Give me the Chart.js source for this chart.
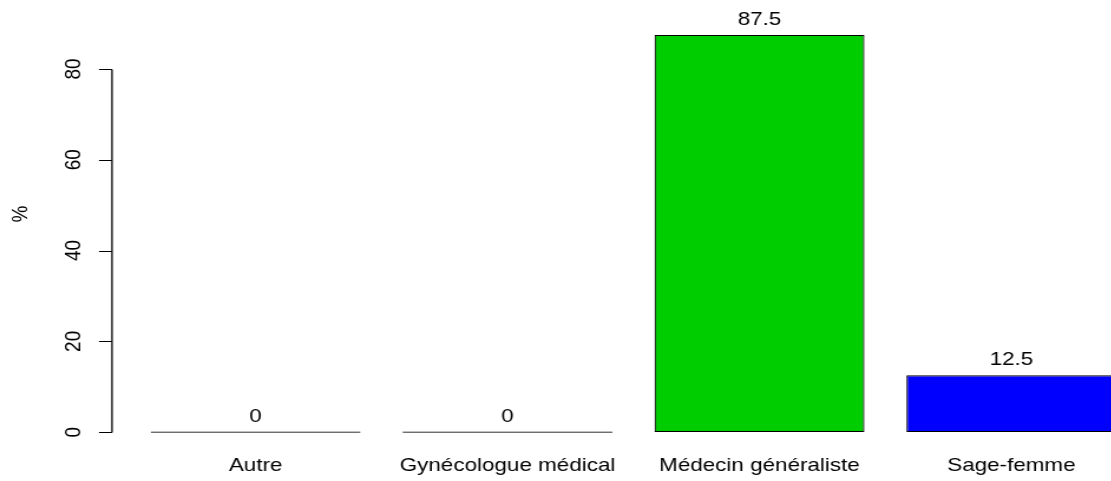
<!DOCTYPE html>
<html>
<head>
<meta charset="utf-8">
<script src="https://cdn.jsdelivr.net/npm/chart.js@4.4.1/dist/chart.umd.min.js"></script>
<style>
  html, body { margin: 0; padding: 0; background: #fff; overflow: hidden; width: 1111px; height: 481px; }
  #wrap { position: absolute; left: 0; top: 0; transform-origin: 0 0; }
  canvas { display: block; }
</style>
</head>
<body>
<div id="wrap"><canvas id="c" width="985" height="481"></canvas></div>
<script>
// ---- data ----
const categories = ["Autre", "Gynécologue médical", "Médecin généraliste", "Sage-femme"];
const values = [0, 0, 87.5, 12.5];
const valueLabels = ["0", "0", "87.5", "12.5"];
const barColors = ["#BEBEBE", "#BEBEBE", "#00CD00", "#0000FF"];
const yTicks = [0, 20, 40, 60, 80];
const yTitle = "%";

// ---- layout (R barplot style: width 1, space 0.2) ----
const S = 1.18;                       // horizontal stretch of the reference image
document.getElementById('wrap').style.transform = 'scaleX(' + S + ')';
const space = 0.2;
const positions = categories.map((_, i) => space + i * (1 + space) + 0.5);
const xSpan = positions.length * (1 + space);
const xMin = space - 0.04 * (xSpan - space);
const xMax = xSpan + 0.04 * (xSpan - space);
const yMax = Math.max(...values);
const yMin = -0.04 * yMax;
const yTop = yMax + 0.04 * yMax;

const FONT = '"Liberation Sans", Arial, sans-serif';
const FS = 19;
const TXT = '#000';

const rAxisPlugin = {
  id: 'rAxis',
  afterDraw(chart) {
    const ctx = chart.ctx;
    const y = chart.scales.y;
    const axX = chart.chartArea.left;
    ctx.save();
    ctx.strokeStyle = '#000';
    ctx.lineWidth = 1.3;
    ctx.beginPath();
    const p0 = Math.round(y.getPixelForValue(yTicks[0])) + 0.5;
    const p1 = Math.round(y.getPixelForValue(yTicks[yTicks.length - 1])) + 0.5;
    ctx.moveTo(axX, p0);
    ctx.lineTo(axX, p1);
    ctx.stroke();
    ctx.lineWidth = 1;
    ctx.beginPath();
    yTicks.forEach(v => {
      const py = Math.round(y.getPixelForValue(v)) + 0.5;
      ctx.moveTo(axX, py);
      ctx.lineTo(axX - 13 / S, py);
    });
    ctx.stroke();
    ctx.fillStyle = TXT;
    ctx.font = FS + 'px ' + FONT;
    ctx.textAlign = 'center';
    ctx.textBaseline = 'alphabetic';
    yTicks.forEach(v => {
      const py = y.getPixelForValue(v);
      ctx.save();
      ctx.translate(80 / S, py);
      ctx.rotate(-Math.PI / 2);
      ctx.fillText(String(v), 0, 0);
      ctx.restore();
    });
    // axis title
    ctx.save();
    ctx.translate(27 / S, 214);
    ctx.rotate(-Math.PI / 2);
    ctx.fillText(yTitle, 0, 0);
    ctx.restore();
    // value labels above bars
    const meta = chart.getDatasetMeta(0);
    meta.data.forEach((bar, i) => {
      const top = y.getPixelForValue(values[i]);
      ctx.fillText(valueLabels[i], bar.x, top - 10);
    });
    ctx.restore();
  }
};

new Chart(document.getElementById('c'), {
  type: 'bar',
  data: {
    datasets: [{
      data: positions.map((p, i) => ({ x: p, y: values[i] })),
      backgroundColor: barColors,
      borderColor: '#000',
      borderWidth: 1.2,
      borderSkipped: false,
      inflateAmount: 0,
      minBarLength: 1.4,
      categoryPercentage: 1,
      barPercentage: 1 / (1 + space)
    }]
  },
  options: {
    responsive: false,
    animation: false,
    devicePixelRatio: 1,
    layout: { padding: { left: 112 / S, top: 19, right: 985 - 1155 / S, bottom: 0 } },
    plugins: { legend: { display: false }, tooltip: { enabled: false } },
    scales: {
      x: {
        type: 'linear',
        offset: false,
        min: xMin,
        max: xMax,
        grid: { display: false, drawTicks: false, offset: false },
        border: { display: false },
        afterBuildTicks: (scale) => { scale.ticks = positions.map(v => ({ value: v })); },
        afterFit: (scale) => { scale.height = 481 - 448; },
        ticks: {
          autoSkip: false,
          maxRotation: 0,
          minRotation: 0,
          padding: 6,
          color: TXT,
          font: { family: FONT, size: FS },
          callback: (val, idx) => categories[idx]
        }
      },
      y: {
        display: false,
        min: yMin,
        max: yTop
      }
    }
  },
  plugins: [rAxisPlugin]
});
</script>
</body>
</html>
